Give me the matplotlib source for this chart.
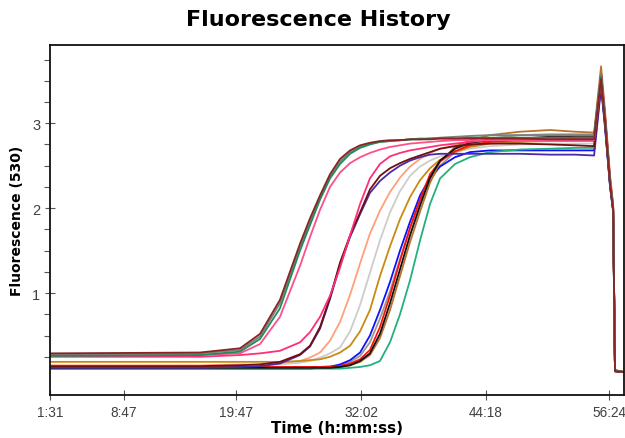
import matplotlib
matplotlib.use("Agg")
import matplotlib.pyplot as plt
from matplotlib.ticker import FixedLocator

plt.rcParams['font.family'] = 'Liberation Sans'

# time of each reading (seconds from start)
time_s = [91, 974, 1210, 1328, 1445, 1563, 1622, 1681, 1740, 1799, 1858, 1917, 1975,
          2034, 2093, 2152, 2211, 2270, 2329, 2388, 2476, 2564, 2682, 2859, 3036, 3183,
          3295, 3336, 3359, 3389, 3407, 3418, 3471]

# fluorescence (530) per sample
darkred_a = [0.29, 0.30, 0.35, 0.52, 0.92, 1.58, 1.88, 2.15, 2.40, 2.58, 2.68, 2.74, 2.77, 2.79, 2.80, 2.80, 2.81,
             2.81, 2.81, 2.82, 2.82, 2.82, 2.82, 2.82, 2.81, 2.81, 2.81, 3.52, 3.02, 2.28, 1.98, 0.08, 0.07]
seagreen_a = [0.26, 0.27, 0.31, 0.46, 0.82, 1.50, 1.80, 2.10, 2.35, 2.52, 2.64, 2.71, 2.75, 2.78, 2.79, 2.80, 2.81,
              2.81, 2.82, 2.82, 2.82, 2.83, 2.83, 2.83, 2.83, 2.83, 2.83, 3.55, 3.05, 2.30, 2.00, 0.09, 0.07]
gray_a = [0.28, 0.29, 0.33, 0.49, 0.88, 1.54, 1.84, 2.12, 2.37, 2.55, 2.66, 2.72, 2.76, 2.78, 2.79, 2.80, 2.81,
          2.82, 2.82, 2.83, 2.84, 2.85, 2.86, 2.86, 2.86, 2.86, 2.86, 3.58, 3.08, 2.32, 2.02, 0.09, 0.07]
hotpink_a = [0.27, 0.27, 0.29, 0.40, 0.72, 1.32, 1.66, 1.98, 2.25, 2.42, 2.53, 2.60, 2.65, 2.69, 2.72, 2.74, 2.76,
             2.77, 2.78, 2.79, 2.80, 2.80, 2.80, 2.80, 2.80, 2.80, 2.80, 3.52, 3.04, 2.30, 2.00, 0.09, 0.07]
deeppink_b = [0.25, 0.25, 0.27, 0.29, 0.32, 0.42, 0.54, 0.72, 0.97, 1.30, 1.68, 2.05, 2.35, 2.52, 2.61, 2.65, 2.68,
              2.70, 2.72, 2.74, 2.76, 2.78, 2.80, 2.82, 2.83, 2.83, 2.83, 3.58, 3.10, 2.35, 2.02, 0.08, 0.07]
maroon_b = [0.14, 0.14, 0.15, 0.16, 0.19, 0.28, 0.38, 0.60, 0.95, 1.36, 1.68, 1.95, 2.22, 2.38, 2.47, 2.53, 2.58,
            2.62, 2.66, 2.70, 2.73, 2.75, 2.76, 2.76, 2.75, 2.74, 2.73, 3.48, 3.00, 2.28, 1.98, 0.08, 0.07]
purple_b = [0.12, 0.12, 0.13, 0.14, 0.17, 0.27, 0.37, 0.58, 0.93, 1.33, 1.66, 1.93, 2.18, 2.32, 2.42, 2.50, 2.56,
            2.60, 2.63, 2.64, 2.64, 2.64, 2.64, 2.64, 2.63, 2.63, 2.62, 3.42, 2.95, 2.25, 1.96, 0.08, 0.07]
salmon = [0.15, 0.15, 0.16, 0.16, 0.17, 0.20, 0.24, 0.30, 0.44, 0.66, 0.98, 1.35, 1.70, 1.97, 2.19, 2.36, 2.49,
          2.58, 2.65, 2.70, 2.74, 2.77, 2.79, 2.80, 2.80, 2.80, 2.80, 3.55, 3.05, 2.30, 2.00, 0.09, 0.07]
lightgray = [0.14, 0.14, 0.14, 0.15, 0.16, 0.18, 0.20, 0.24, 0.29, 0.36, 0.55, 0.86, 1.24, 1.62, 1.95, 2.20, 2.38,
             2.49, 2.56, 2.61, 2.66, 2.70, 2.73, 2.75, 2.76, 2.76, 2.76, 3.50, 3.02, 2.28, 1.98, 0.09, 0.07]
goldenrod = [0.19, 0.19, 0.19, 0.19, 0.19, 0.20, 0.21, 0.22, 0.25, 0.30, 0.38, 0.55, 0.80, 1.20, 1.55, 1.87, 2.13,
             2.33, 2.47, 2.57, 2.66, 2.72, 2.76, 2.78, 2.79, 2.79, 2.79, 3.55, 3.06, 2.32, 2.00, 0.09, 0.07]
blue = [0.11, 0.11, 0.11, 0.11, 0.11, 0.11, 0.11, 0.12, 0.13, 0.16, 0.21, 0.30, 0.50, 0.80, 1.13, 1.50, 1.84,
        2.15, 2.36, 2.49, 2.60, 2.66, 2.68, 2.68, 2.68, 2.68, 2.68, 3.45, 2.98, 2.26, 1.97, 0.08, 0.07]
olive_gray = [0.13, 0.13, 0.13, 0.13, 0.13, 0.13, 0.13, 0.13, 0.14, 0.15, 0.19, 0.26, 0.42, 0.70, 1.02, 1.40, 1.76,
              2.08, 2.32, 2.50, 2.66, 2.76, 2.82, 2.86, 2.87, 2.87, 2.87, 3.60, 3.10, 2.34, 2.02, 0.09, 0.07]
red = [0.13, 0.13, 0.13, 0.13, 0.13, 0.13, 0.13, 0.13, 0.13, 0.14, 0.17, 0.22, 0.33, 0.60, 0.97, 1.38, 1.77,
       2.10, 2.40, 2.55, 2.67, 2.74, 2.78, 2.80, 2.81, 2.82, 2.82, 3.58, 3.08, 2.32, 2.00, 0.09, 0.07]
black = [0.12, 0.12, 0.12, 0.12, 0.12, 0.12, 0.12, 0.12, 0.12, 0.13, 0.15, 0.20, 0.29, 0.52, 0.88, 1.28, 1.68,
         2.03, 2.36, 2.56, 2.70, 2.77, 2.80, 2.82, 2.84, 2.85, 2.85, 3.56, 3.06, 2.30, 1.99, 0.08, 0.07]
peru = [0.13, 0.13, 0.13, 0.13, 0.13, 0.13, 0.13, 0.13, 0.13, 0.13, 0.15, 0.19, 0.27, 0.47, 0.80, 1.20, 1.60,
        1.96, 2.30, 2.55, 2.72, 2.80, 2.86, 2.90, 2.92, 2.90, 2.89, 3.67, 3.15, 2.38, 2.04, 0.09, 0.07]
teal = [0.11, 0.11, 0.11, 0.11, 0.11, 0.11, 0.11, 0.11, 0.11, 0.11, 0.12, 0.13, 0.15, 0.20, 0.42, 0.75, 1.15,
        1.62, 2.05, 2.35, 2.52, 2.60, 2.66, 2.69, 2.70, 2.71, 2.71, 3.48, 3.00, 2.27, 1.97, 0.08, 0.07]

series = [
    (salmon, '#ffa07a'), (lightgray, '#cccccc'), (goldenrod, '#c88a12'), (olive_gray, '#9a9a88'),
    (blue, '#1010ff'), (teal, '#22b07d'), (peru, '#b8742a'), (red, '#ff1010'), (black, '#111111'),
    (purple_b, '#4b2aa8'), (maroon_b, '#6e1010'), (deeppink_b, '#ff2f77'),
    (hotpink_a, '#ff4f8b'), (gray_a, '#7f7f7f'), (seagreen_a, '#1e8c5a'), (darkred_a, '#8b2323'),
]

tick_secs = [91, 527, 1187, 1922, 2658, 3384]
tick_labels = ['1:31', '8:47', '19:47', '32:02', '44:18', '56:24']

fig = plt.figure(figsize=(6.25, 4.39), dpi=100)
ax = fig.add_axes([0.08, 0.098, 0.9184, 0.797])

for vals, col in series:
    ax.plot(time_s, vals, color=col, lw=1.3)

ax.set_xlim(91, 3471)
ax.set_ylim(-0.2, 3.92)
ax.set_xticks(tick_secs)
ax.set_xticklabels(tick_labels)
ax.set_yticks([1, 2, 3])
ax.yaxis.set_minor_locator(FixedLocator([0.25, 0.5, 0.75, 1.25, 1.5, 1.75, 2.25, 2.5, 2.75,
                                         3.25, 3.5, 3.75]))
ax.tick_params(axis='both', which='major', direction='inout', length=7, width=0.8,
               labelcolor='#404040', color='#555555')
ax.tick_params(axis='x', which='major', labelsize=9.8)
ax.tick_params(axis='y', which='major', labelsize=10.5)
ax.tick_params(axis='y', which='minor', direction='out', length=4, width=0.8, color='#555555')
for sp in ax.spines.values():
    sp.set_linewidth(1.3)
    sp.set_color('#111111')

ax.set_xlabel('Time (h:mm:ss)', family='DejaVu Sans', fontweight='bold', fontsize=10.8, labelpad=1)
ax.set_ylabel('Fluorescence (530)', family='DejaVu Sans', fontweight='bold', fontsize=10, labelpad=6)
fig.text(0.51, 0.955, 'Fluorescence History', family='DejaVu Sans', fontweight='bold',
         fontsize=16, ha='center', va='center')

fig.savefig('out.png', dpi=100)
